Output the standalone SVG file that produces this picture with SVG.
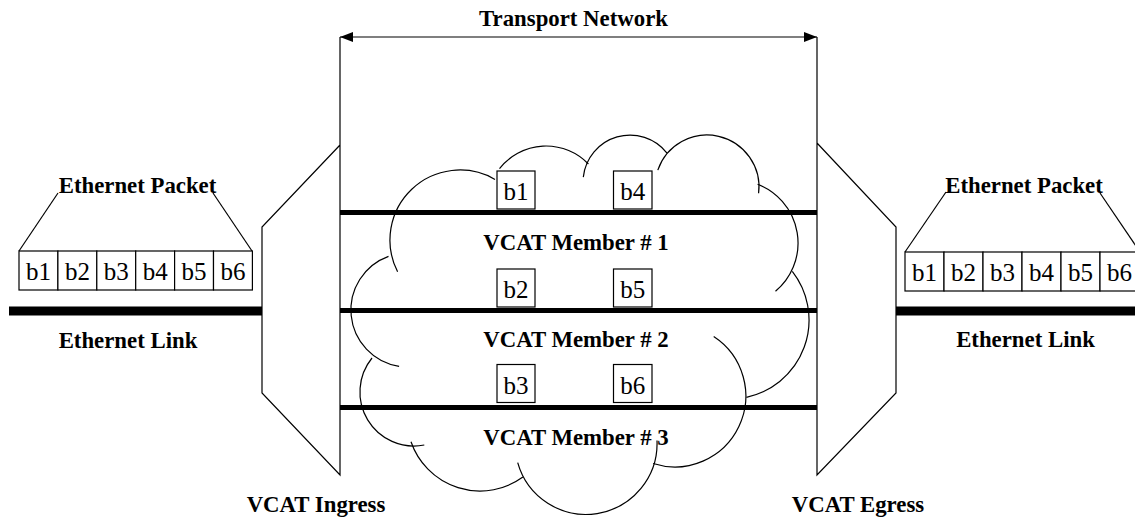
<svg xmlns="http://www.w3.org/2000/svg" width="1135" height="517" viewBox="0 0 1135 517">
<style>
.ln{fill:none;stroke:#000;stroke-width:1.2}
.cl{fill:none;stroke:#000;stroke-width:1.2}
.bx{fill:#fff;stroke:#000;stroke-width:1.2}
.thick{stroke:#000;stroke-width:5}
.link{stroke:#000;stroke-width:9}
.lbl{font-family:"Liberation Serif","Times New Roman",serif;font-weight:bold;font-size:22.8px;text-anchor:middle;fill:#000}
.b{font-family:"Liberation Serif","Times New Roman",serif;font-size:25px;text-anchor:middle;fill:#000}
</style>
<defs>
<marker id="ah" viewBox="0 0 13 10" refX="13" refY="5" markerWidth="13" markerHeight="10" markerUnits="userSpaceOnUse" orient="auto-start-reverse">
<path d="M0,0 L13,5 L0,10 Z" fill="#000"/>
</marker>
</defs>
<rect width="1135" height="517" fill="#fff"/>

<g id="cloud">
<path class="cl" d="M399.1,366.3 A57,57 0 0 1 388.5,256.4"/>
<path class="cl" d="M397.6,271.8 A70,70 0 0 1 495,179.4"/>
<path class="cl" d="M499.5,168.7 A59,59 0 0 1 588.4,164"/>
<path class="cl" d="M583.3,177.1 A47,47 0 0 1 667,153.1"/>
<path class="cl" d="M657.8,170.1 A52,52 0 0 1 758.6,193.3"/>
<path class="cl" d="M757.6,184.2 A63,63 0 0 1 775.5,291.3"/>
<path class="cl" d="M792.3,271.4 A79,79 0 0 1 746.4,397.3"/>
<path class="cl" d="M713.7,336.5 A71,71 0 0 1 653.1,463.5"/>
<path class="cl" d="M657,440.5 A71,71 0 0 1 517.7,462.6"/>
<path class="cl" d="M522.9,477.1 A73,73 0 0 1 411,441.8"/>
<path class="cl" d="M424.3,445 A54,54 0 0 1 372,358"/>
</g>

<g id="connectors">
<line class="ln" x1="340" y1="37" x2="817" y2="37" marker-start="url(#ah)" marker-end="url(#ah)"/>
<line class="link" x1="9" y1="311" x2="262" y2="311"/>
<line class="link" x1="896" y1="311" x2="1135" y2="311"/>
<line class="thick" x1="340" y1="212.5" x2="817" y2="212.5"/>
<line class="thick" x1="340" y1="310.5" x2="817" y2="310.5"/>
<line class="thick" x1="340" y1="407.5" x2="817" y2="407.5"/>
</g>

<g id="transport-network">
<text class="lbl" x="573.5" y="26">Transport Network</text>
</g>

<g id="vcat-ingress">
<polyline class="ln" points="340,37 340,475 262,393 262,227 340,145"/>
<text class="lbl" x="316" y="512">VCAT Ingress</text>
</g>

<g id="vcat-egress">
<polyline class="ln" points="817,37 817,475 896,393 896,227 817,143"/>
<text class="lbl" x="858" y="512">VCAT Egress</text>
</g>

<g id="ethernet-packet-left">
<polyline class="ln" points="19,251 58,193"/>
<polyline class="ln" points="213,193 252,251"/>
<text class="lbl" x="137.5" y="193">Ethernet Packet</text>
<rect class="bx" x="19" y="251" width="38.9" height="39"/>
<rect class="bx" x="57.9" y="251" width="38.9" height="39"/>
<rect class="bx" x="96.8" y="251" width="38.9" height="39"/>
<rect class="bx" x="135.7" y="251" width="38.9" height="39"/>
<rect class="bx" x="174.6" y="251" width="38.9" height="39"/>
<rect class="bx" x="213.5" y="251" width="38.9" height="39"/>
<text class="b" x="38.5" y="280">b1</text>
<text class="b" x="77.4" y="280">b2</text>
<text class="b" x="116.3" y="280">b3</text>
<text class="b" x="155.2" y="280">b4</text>
<text class="b" x="194.1" y="280">b5</text>
<text class="b" x="233" y="280">b6</text>
</g>

<g id="ethernet-link-left">
<text class="lbl" x="128" y="348">Ethernet Link</text>
</g>

<g id="ethernet-packet-right">
<polyline class="ln" points="905,252 946,192"/>
<polyline class="ln" points="1100,193 1140,252"/>
<text class="lbl" x="1024" y="193">Ethernet Packet</text>
<rect class="bx" x="905" y="252" width="39" height="39"/>
<rect class="bx" x="944" y="252" width="39" height="39"/>
<rect class="bx" x="983" y="252" width="39" height="39"/>
<rect class="bx" x="1022" y="252" width="39" height="39"/>
<rect class="bx" x="1061" y="252" width="39" height="39"/>
<rect class="bx" x="1100" y="252" width="39" height="39"/>
<text class="b" x="924.5" y="281">b1</text>
<text class="b" x="963.5" y="281">b2</text>
<text class="b" x="1002.5" y="281">b3</text>
<text class="b" x="1041.5" y="281">b4</text>
<text class="b" x="1080.5" y="281">b5</text>
<text class="b" x="1119.5" y="281">b6</text>
</g>

<g id="ethernet-link-right">
<text class="lbl" x="1025.5" y="347">Ethernet Link</text>
</g>

<g id="vcat-member-1">
<rect class="bx" x="497" y="171" width="38" height="38"/>
<text class="b" x="516" y="200">b1</text>
<rect class="bx" x="613.5" y="171" width="38.5" height="38"/>
<text class="b" x="632.7" y="200">b4</text>
<text class="lbl" x="576" y="250">VCAT Member # 1</text>
</g>

<g id="vcat-member-2">
<rect class="bx" x="497" y="269" width="38" height="38"/>
<text class="b" x="516" y="298">b2</text>
<rect class="bx" x="613.5" y="269" width="38.5" height="38"/>
<text class="b" x="632.7" y="298">b5</text>
<text class="lbl" x="576" y="347">VCAT Member # 2</text>
</g>

<g id="vcat-member-3">
<rect class="bx" x="497" y="364.5" width="38" height="38"/>
<text class="b" x="516" y="393.5">b3</text>
<rect class="bx" x="613.5" y="364.5" width="38.5" height="38"/>
<text class="b" x="632.7" y="393.5">b6</text>
<text class="lbl" x="576" y="445">VCAT Member # 3</text>
</g>
</svg>
